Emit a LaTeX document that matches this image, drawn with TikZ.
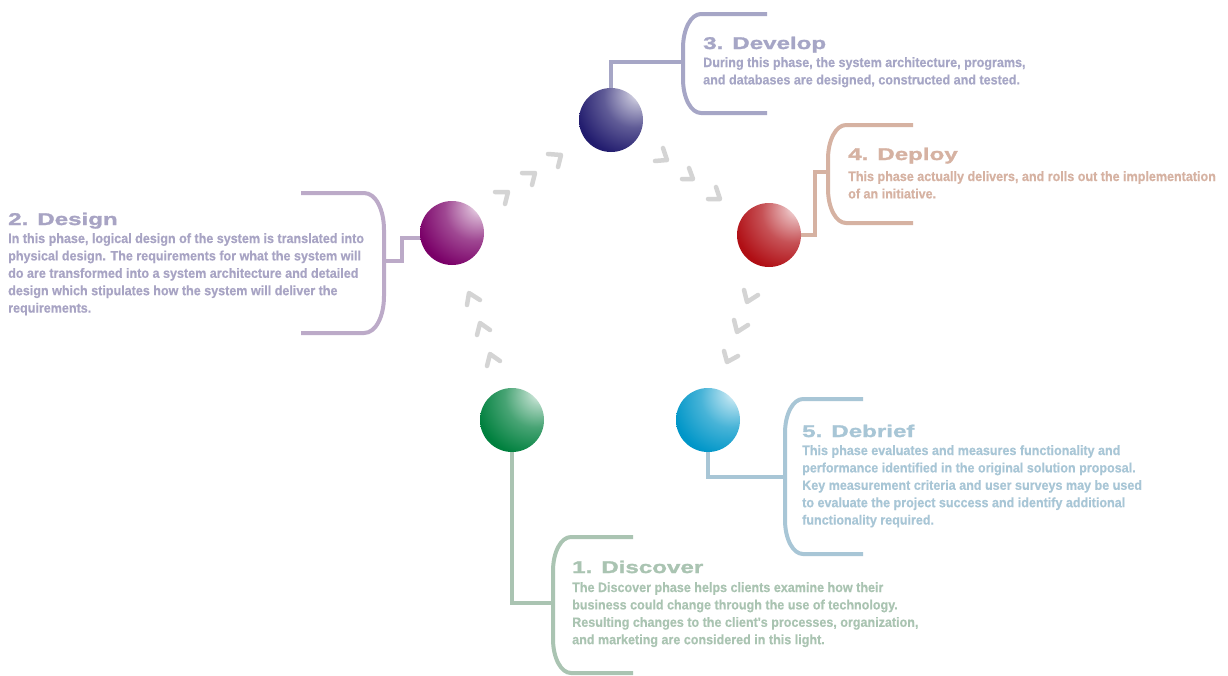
\documentclass[tikz,border=0pt]{standalone}
\usepackage{fontspec}
\newfontfamily\bodyf{Liberation Sans}[FakeStretch=0.93, FakeBold=0.4]
\newfontfamily\titlef{Liberation Sans}[FakeStretch=1.42, FakeBold=1.6]
\definecolor{sGreen}{RGB}{0,128,62}
\definecolor{sBlue}{RGB}{0,150,200}
\definecolor{sPurple}{RGB}{122,0,104}
\definecolor{sNavy}{RGB}{34,28,110}
\definecolor{sRed}{RGB}{176,14,20}
\definecolor{lDisc}{RGB}{170,196,178}
\definecolor{lDes}{RGB}{188,170,200}
\definecolor{tDes}{RGB}{168,164,196}
\definecolor{lDev}{RGB}{166,166,198}
\definecolor{lDep}{RGB}{214,178,162}
\definecolor{lDeb}{RGB}{168,198,214}
\definecolor{chevgray}{RGB}{212,212,212}
\makeatletter
\pgfdeclareradialshading[tikz@ball]{gloss}{\pgfpoint{24bp}{24bp}}{%
 color(0bp)=(white); color(2bp)=(tikz@ball!8!white); color(10bp)=(tikz@ball!35!white);
 color(24bp)=(tikz@ball!72!white); color(42bp)=(tikz@ball); color(100bp)=(tikz@ball)}
\makeatother
\begin{document}
\begin{tikzpicture}[x=1pt,y=-1pt,
  orb/.style={circle, minimum size=64pt, inner sep=0pt, ball color=#1, shading=gloss},
  brk/.style={line width=4pt, draw=#1},
  chev/.style={line width=4.5pt, draw=chevgray, line cap=round, line join=round},
  ttl/.style={anchor=base west, inner sep=0pt, text=#1, font=\titlef\bfseries\fontsize{17}{20}\selectfont},
  bdy/.style={anchor=base west, inner sep=0pt, align=left, text=#1, font=\bodyf\bfseries\fontsize{13.5}{17.4}\selectfont}]
\useasboundingbox (0,0) rectangle (1228,675);
\fill[white] (0,0) rectangle (1228,675);

% brackets
\draw[brk=lDev] (767,14) -- (701,14) .. controls (691,14) and (683,29) .. (683,48) -- (683,79) .. controls (683,98) and (691,113) .. (701,113) -- (767,113);
\draw[brk=lDes] (301,193) -- (364,193) .. controls (376,193) and (384,210) .. (384,230) -- (384,296) .. controls (384,316) and (376,333) .. (364,333) -- (301,333);
\draw[brk=lDep] (913,125) -- (846,125) .. controls (836,125) and (828,140) .. (828,159) -- (828,189) .. controls (828,208) and (836,223) .. (846,223) -- (913,223);
\draw[brk=lDeb] (863,399) -- (803,399) .. controls (793,399) and (785,414) .. (785,433) -- (785,520) .. controls (785,539) and (793,554) .. (803,554) -- (863,554);
\draw[brk=lDisc] (633,537) -- (571,537) .. controls (561,537) and (553,552) .. (553,571) -- (553,639) .. controls (553,658) and (561,673) .. (571,673) -- (633,673);

\coordinate (k1) at (553,603);
\coordinate (k2) at (384,261);
\coordinate (k3) at (683,62);
\coordinate (k4) at (828,172);
\coordinate (k5) at (785,477);

% sphere positions
\coordinate (p1) at (512,420);
\coordinate (p2) at (452,233);
\coordinate (p3) at (611,120);
\coordinate (p4) at (769,235);
\coordinate (p5) at (708,420);

% connectors (drawn first, spheres on top)
\path (p1) node[circle, minimum size=64pt, inner sep=0pt] (c1) {};
\path (p2) node[circle, minimum size=64pt, inner sep=0pt] (c2) {};
\path (p3) node[circle, minimum size=64pt, inner sep=0pt] (c3) {};
\path (p4) node[circle, minimum size=64pt, inner sep=0pt] (c4) {};
\path (p5) node[circle, minimum size=64pt, inner sep=0pt] (c5) {};
\draw[brk=lDisc] (c1.center) |- (k1);
\draw[brk=lDes] (k2) -- ++(18,0) |- ([yshift=-5pt]c2.center);
\draw[brk=lDev] (c3.center) |- (k3);
\draw[brk=lDep] (c4.center) -- ++(46,0) |- (k4);
\draw[brk=lDeb] (c5.center) |- (k5);

% spheres
\node[orb=sGreen]  (s1) at (p1) {};
\node[orb=sPurple] (s2) at (p2) {};
\node[orb=sNavy]   (s3) at (p3) {};
\node[orb=sRed]    (s4) at (p4) {};
\node[orb=sBlue]   (s5) at (p5) {};

% chevrons
\draw[chev] (467,305) -- (469,293) -- (480,300);
\draw[chev] (477,335) -- (480,323) -- (490,330);
\draw[chev] (487,366) -- (490,354) -- (500,361);
\draw[chev] (548,154) -- (561,155) -- (558,167);
\draw[chev] (522,173) -- (535,173) -- (532,185);
\draw[chev] (495,192) -- (508,192) -- (505,204);
\draw[chev] (663,148) -- (667,160) -- (655,161);
\draw[chev] (689,168) -- (693,179) -- (682,179);
\draw[chev] (716,187) -- (720,199) -- (708,199);
\draw[chev] (744,290) -- (747,302) -- (758,295);
\draw[chev] (734,320) -- (737,332) -- (748,325);
\draw[chev] (724,351) -- (727,362) -- (738,356);

% texts (body nodes anchored at the baseline of their last line)
\node[ttl=lDev] (t3) at (703,49) {3. Develop};
\node[bdy=lDev] (b3) at (703,84.4) {During this phase, the system architecture, programs,\\and databases are designed, constructed and tested.};
\node[ttl=tDes] (t2) at (8,225) {2. Design};
\node[bdy=tDes] (b2) at (8,312.6) {In this phase, logical design of the system is translated into\\physical design. The requirements for what the system will\\do are transformed into a system architecture and detailed\\design which stipulates how the system will deliver the\\requirements.};
\node[ttl=lDep] (t4) at (848,160) {4. Deploy};
\node[bdy=lDep] (b4) at (848,198.4) {This phase actually delivers, and rolls out the implementation\\of an initiative.};
\node[ttl=lDeb] (t5) at (802,437) {5. Debrief};
\node[bdy=lDeb] (b5) at (802,524.6) {This phase evaluates and measures functionality and\\performance identified in the original solution proposal.\\Key measurement criteria and user surveys may be used\\to evaluate the project success and identify additional\\functionality required.};
\node[ttl=lDisc] (t1) at (572,573) {1. Discover};
\node[bdy=lDisc] (b1) at (572,644.2) {The Discover phase helps clients examine how their\\business could change through the use of technology.\\Resulting changes to the client's processes, organization,\\and marketing are considered in this light.};
\end{tikzpicture}
\end{document}
